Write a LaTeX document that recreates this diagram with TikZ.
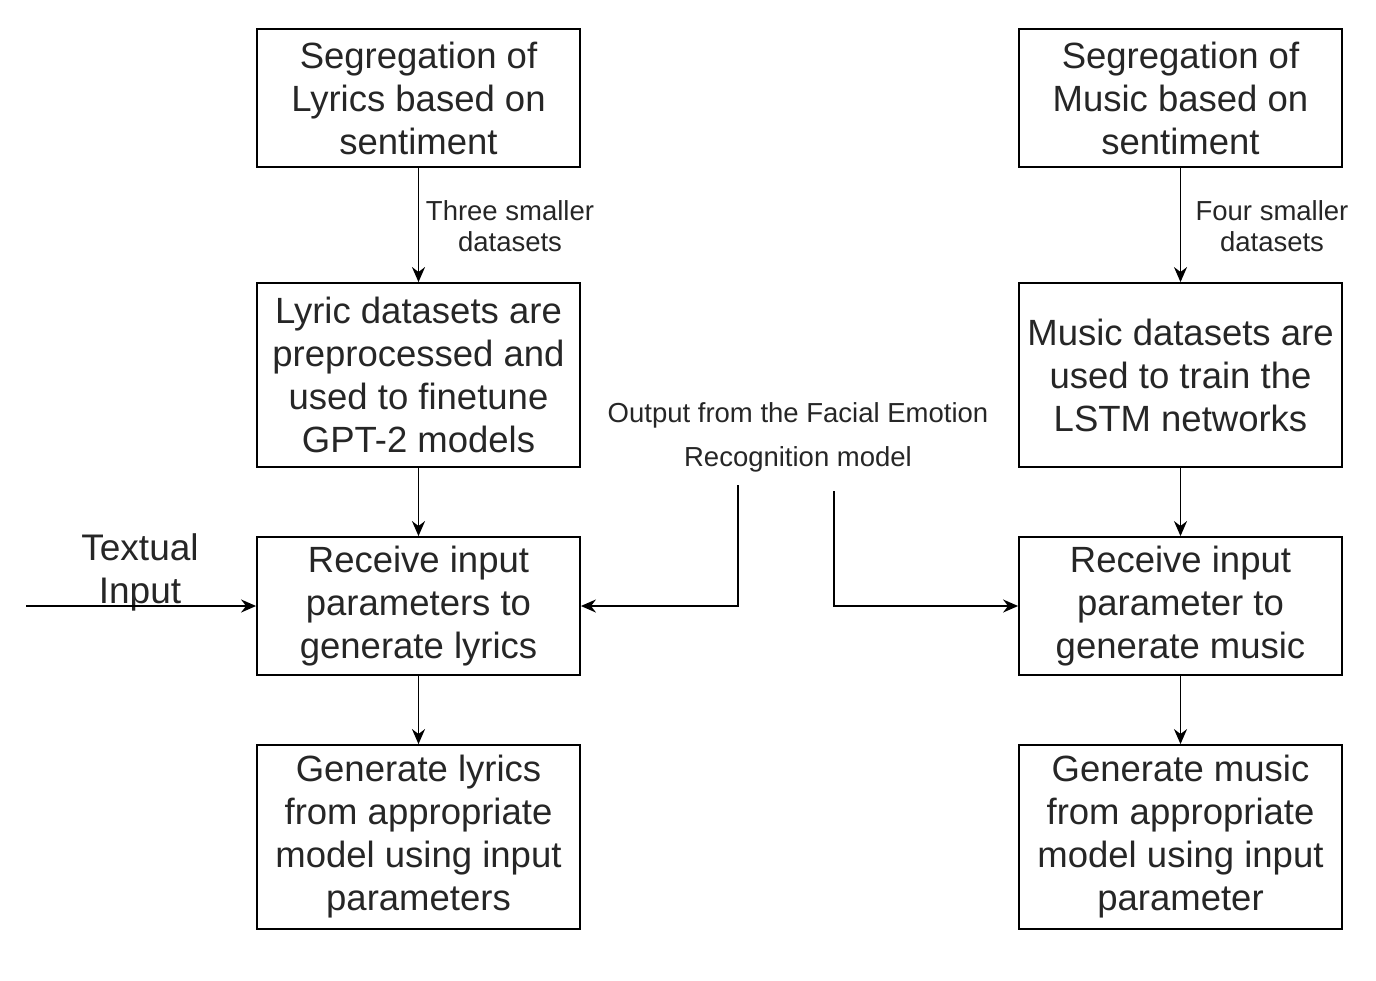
\documentclass[tikz,border=0pt]{standalone}
\usepackage{fontspec}
\setmainfont{Liberation Sans}
\usepackage{tikz}
\usetikzlibrary{arrows.meta}

\begin{document}
\begin{tikzpicture}[x=1pt, y=-1pt, >={Stealth[length=15pt, width=13pt]},
	box/.style={draw, line width=1.8pt, minimum width=323pt, align=center, font=\fontsize{36.5}{43}\selectfont, text=black!85, inner sep=0pt},
	lbl/.style={align=center, font=\fontsize{27.5}{31}\selectfont, text=black!85},
	conn/.style={->, line width=1.8pt}]
	\useasboundingbox (0,0) rectangle (1376,980);
	% left column
	\node[box, minimum height=138pt] (segL) at (418.5,98) {Segregation of\\Lyrics based on\\sentiment};
	\node[box, minimum height=184pt] (prepL) at (418.5,375) {Lyric datasets are\\preprocessed and\\used to finetune\\GPT-2 models};
	\node[box, minimum height=138pt] (recvL) at (418.5,606) {Receive input\\parameters to\\generate lyrics};
	\node[box, minimum height=184pt] (genL) at (418.5,837) {Generate lyrics\\from appropriate\\model using input\\parameters};
	% right column
	\node[box, minimum height=138pt] (segR) at (1180.5,98) {Segregation of\\Music based on\\sentiment};
	\node[box, minimum height=184pt] (prepR) at (1180.5,375) {Music datasets are\\used to train the\\LSTM networks};
	\node[box, minimum height=138pt] (recvR) at (1180.5,606) {Receive input\\parameter to\\generate music};
	\node[box, minimum height=184pt] (genR) at (1180.5,837) {Generate music\\from appropriate\\model using input\\parameter};
	% labels
	\node[lbl] (three) at (510,226) {Three smaller\\datasets};
	\node[lbl] (four) at (1272,226) {Four smaller\\datasets};
	\node[lbl, font=\fontsize{27.5}{44}\selectfont] (fer) at (798,437) {Output from the Facial Emotion\\Recognition model};
	\node[font=\fontsize{37}{43}\selectfont, text=black!85, align=center] (txt) at (140,572) {Textual\\Input};
	\coordinate (ferL) at (738,485);
	\coordinate (ferR) at (834,491);
	\coordinate (txtIn) at (26,606);

	\draw[conn] (segL) -- (prepL);
	\draw[conn] (prepL) -- (recvL);
	\draw[conn] (recvL) -- (genL);
	\draw[conn] (segR) -- (prepR);
	\draw[conn] (prepR) -- (recvR);
	\draw[conn] (recvR) -- (genR);
	\draw[conn] (txtIn) -- (recvL);
	\draw[conn] (ferL) |- (recvL);
	\draw[conn] (ferR) |- (recvR);
\end{tikzpicture}
\end{document}
